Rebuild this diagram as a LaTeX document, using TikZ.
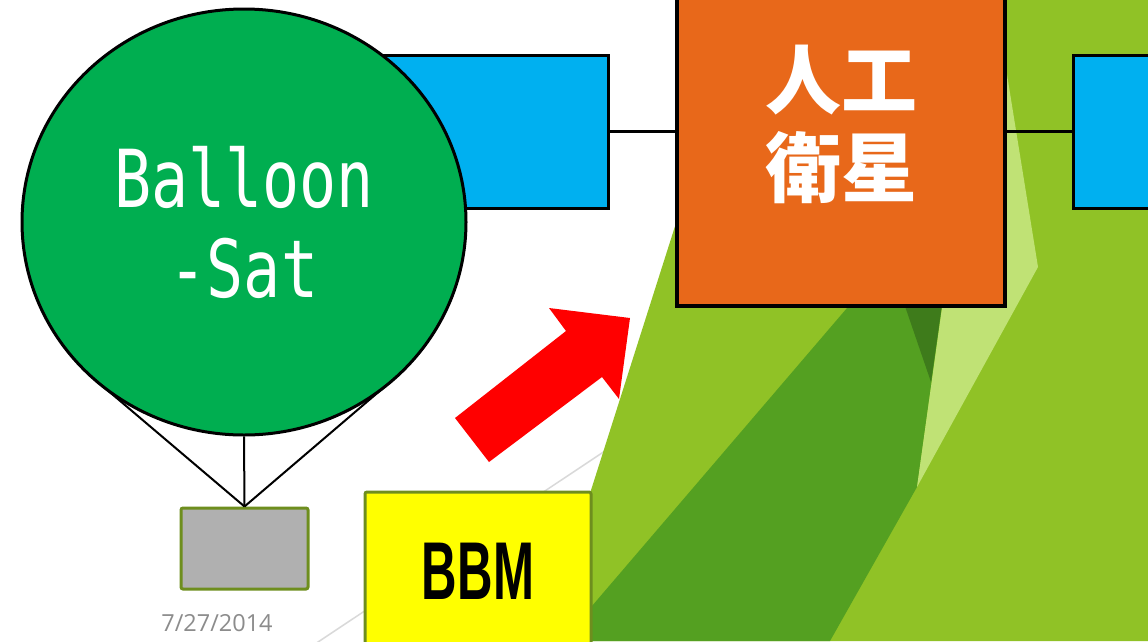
\documentclass[tikz,border=0pt]{standalone}
\usepackage{fontspec}
\usepackage{graphicx}
\usetikzlibrary{shapes.geometric}
\newfontfamily\balloonfont{DejaVu Sans Mono}
\newfontfamily\cjkfont{Noto Sans CJK JP}
\newfontfamily\bbmfont{Liberation Sans}
\newfontfamily\datefont{Open Sans}
\definecolor{maingreen}{HTML}{90C226}
\definecolor{darkgreen}{HTML}{54A021}
\definecolor{deepgreen}{HTML}{3E7B1B}
\definecolor{lightgreen}{HTML}{C0E275}
\definecolor{panelblue}{HTML}{00B0F0}
\definecolor{satorange}{HTML}{E8681A}
\definecolor{balloongreen}{HTML}{00AE50}
\definecolor{olive}{HTML}{6E8E1E}
\definecolor{payloadgray}{HTML}{B0B0B0}
\definecolor{guideline}{HTML}{D9D9D9}
\definecolor{dategray}{HTML}{8C8C8C}
\definecolor{bbmyellow}{HTML}{FFFF00}
\definecolor{arrowred}{HTML}{FF0000}
\begin{document}
\begin{tikzpicture}[x=1pt,y=-1pt,
  panel/.style={draw=black, line width=3pt, fill=panelblue, minimum width=268pt, minimum height=153pt, inner sep=0pt},
  link/.style={draw=black, line width=3pt},
  stringline/.style={draw=black, line width=2pt},
  olivebox/.style={draw=olive, line width=3pt, rounded corners=2pt, inner sep=0pt}]
\useasboundingbox (0,0) rectangle (1148,641);
\clip (0,0) rectangle (1148,641);
\fill[white] (0,0) rectangle (1148,641);
% background theme
\draw[guideline, line width=1.5pt] (300,654) -- (650,421);
\fill[maingreen] (747,0) -- (1148,0) -- (1148,641) -- (543,641) -- cycle;
\fill[darkgreen] (960,176) -- (562,641) -- (830,641) -- (917,487) -- cycle;
\fill[lightgreen] (985,0) -- (995,0) -- (1038,267) -- (917,487) -- cycle;
\fill[deepgreen] (800,0) -- (985,0) -- (931,382) -- cycle;
% satellite
\node[panel] (lp) at (474,131.5) {};
\node[panel] (rp) at (1207,131.5) {};
\node[draw=black, line width=4pt, fill=satorange, minimum width=328pt, minimum height=363pt, inner sep=0pt, align=center, text=white, font=\cjkfont\bfseries\fontsize{76}{88}\selectfont] (sat) at (841,124.5) {人工\\衛星};
\draw[link] (lp.east) -- (lp.east -| sat.west);
\draw[link] (rp.west -| sat.east) -- (rp.west);
% balloon
\node[olivebox, fill=payloadgray, minimum width=127pt, minimum height=81pt] (payload) at (244.5,548.5) {};
\coordinate (bl) at (99,383);
\coordinate (br) at (389,383);
\draw[stringline] (bl) -- (payload.north);
\draw[stringline] (br) -- (payload.north);
\node[ellipse, draw=black, line width=3pt, fill=balloongreen, minimum width=444pt, minimum height=426pt, inner sep=0pt, align=center, text=white, font=\balloonfont\fontsize{80}{90}\selectfont] (balloon) at (244,222) {\raisebox{-4pt}{\scalebox{0.77}[1]{Balloon}}\\\raisebox{-4pt}{\scalebox{0.77}[1]{-Sat}}};
\draw[stringline] (balloon.south) -- (payload.north);
% BBM
\node[olivebox, fill=bbmyellow, minimum width=226pt, minimum height=159pt, font=\bbmfont\bfseries\fontsize{82}{82}\selectfont] (bbm) at (478,571.5) {\scalebox{0.6}[1]{BBM}};
% arrow
\fill[arrowred] (455,418) -- (566,331) -- (549,308) -- (630,318) -- (619,399) -- (602,377) -- (489,462) -- cycle;
% date
\node[text=dategray, font=\datefont\fontsize{23.5}{25}\selectfont, inner sep=0pt] (date) at (217,623) {7/27/2014};
\end{tikzpicture}
\end{document}
